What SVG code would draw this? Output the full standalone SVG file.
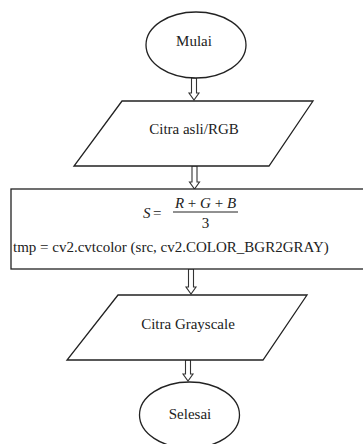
<svg xmlns="http://www.w3.org/2000/svg" width="363" height="444" viewBox="0 0 363 444">
<style>
.s{fill:#fff;stroke:#222;stroke-width:1.3}
.a{fill:#fff;stroke:#333;stroke-width:1.1}
.t{font-family:"Liberation Serif",serif;font-size:15px;fill:#222;text-anchor:middle}
.m{font-family:"Liberation Serif",serif;font-size:15px;fill:#222}
.i{font-style:italic}
</style>
<rect width="363" height="444" fill="#fff"/>
<g id="connectors">
<polygon class="a" points="191.5,78 196.5,78 196.5,93 199,93 194,100 189,93 191.5,93"/>
<polygon class="a" points="192,166 197,166 197,182 199.5,182 194.5,189 189.5,182 192,182"/>
<polygon class="a" points="188.5,269 193.5,269 193.5,287 196,287 191,294 186,287 188.5,287"/>
<polygon class="a" points="185.5,360 190.5,360 190.5,374 193,374 188,381 183,374 185.5,374"/>
</g>
<g id="mulai">
<ellipse class="s" cx="196" cy="45" rx="50" ry="33"/>
<text class="t" x="194" y="46">Mulai</text>
</g>
<g id="citra-asli">
<polygon class="s" points="122,101 313,101 269,166 74,166"/>
<text class="t" x="194" y="134">Citra asli/RGB</text>
</g>
<g id="proses">
<rect class="s" x="11" y="189" width="356" height="80"/>
<text class="m i" x="143" y="218" font-size="16">S</text>
<text class="m" x="153" y="218">=</text>
<line x1="173" y1="212" x2="238" y2="212" stroke="#222" stroke-width="1"/>
<text class="m" x="205.5" y="208" text-anchor="middle"><tspan class="i">R</tspan> + <tspan class="i">G</tspan> + <tspan class="i">B</tspan></text>
<text class="m" x="205.5" y="228" text-anchor="middle">3</text>
<text class="m" x="13" y="252" font-size="15.4">tmp = cv2.cvtcolor (src, cv2.COLOR_BGR2GRAY)</text>
</g>
<g id="citra-grayscale">
<polygon class="s" points="118,295 307,295 263,360 67,360"/>
<text class="t" x="188" y="329">Citra Grayscale</text>
</g>
<g id="selesai">
<ellipse class="s" cx="189.5" cy="415" rx="50" ry="33"/>
<text class="t" x="190" y="419">Selesai</text>
</g>
</svg>
